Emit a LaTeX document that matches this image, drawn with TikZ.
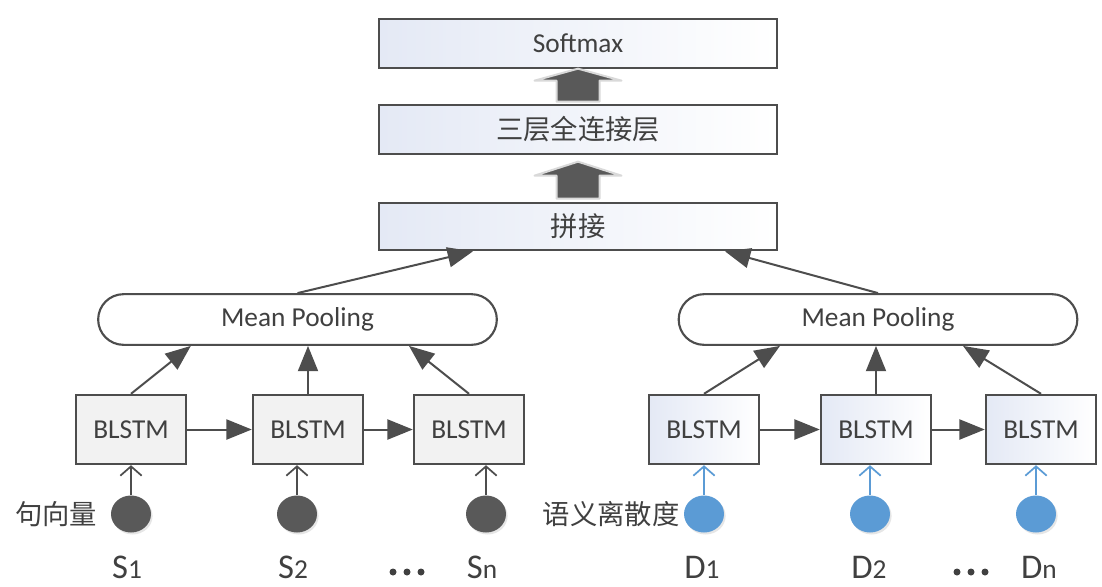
\documentclass[tikz,border=0pt]{standalone}
\usepackage{fontspec}
\setmainfont{Carlito}
\newfontfamily\cjk{Noto Sans CJK SC}
\usepackage{xcolor}
\usetikzlibrary{positioning}
\usetikzlibrary{calc}
\usetikzlibrary{arrows.meta}
\usetikzlibrary{shadows}
\usetikzlibrary{shapes.geometric}

\definecolor{linegray}{RGB}{77,77,77}
\definecolor{textgray}{RGB}{64,64,64}
\definecolor{paleblue}{RGB}{228,233,245}
\definecolor{boxgray}{RGB}{242,242,242}
\definecolor{dotblue}{RGB}{91,155,213}
\definecolor{fatgray}{RGB}{89,89,89}

\newcommand\seqlab[2]{{\fontsize{26}{28}\selectfont #1}{\fontsize{20.5}{24}\selectfont #2}}

\tikzset{
	txt/.style={text=textgray, font=\fontsize{20.5}{24}\selectfont},
	layer/.style={txt, draw=linegray, line width=2pt, left color=paleblue, right color=white, minimum width=298.5pt, minimum height=36.75pt},
	pool/.style={txt, draw=linegray, line width=1.6pt, rounded corners=19pt, fill=white, minimum width=299pt, minimum height=38pt},
	lstm/.style={txt, draw=linegray, line width=1.8pt, minimum width=82.5pt, minimum height=51.75pt},
	graybox/.style={lstm, fill=boxgray},
	bluebox/.style={lstm, left color=paleblue, right color=white},
	sent/.style={ellipse, fill=fatgray, minimum width=30pt, minimum height=27.75pt, inner sep=0pt, drop shadow={shadow xshift=1.2pt, shadow yshift=-1.5pt, opacity=0.2}},
	diver/.style={sent, fill=dotblue},
	flow/.style={draw=linegray, line width=1.5pt, -{Triangle[length=19pt,width=15pt]}},
	feed/.style={draw=linegray, line width=1.3pt, -{Straight Barb[length=7pt,width=16pt]}},
	bluefeed/.style={feed, draw=dotblue},
	lab/.style={txt, inner sep=0pt},
	fat/.style={fill=fatgray, draw=gray!30, line width=1.5pt, line join=round}
}

\begin{document}
\begin{tikzpicture}[x=0.75pt,y=-0.75pt]
	\useasboundingbox (0,0) rectangle (1102,586);
	% top layers
	\node[layer] (soft) at (578,43.5) {Softmax};
	\node[layer] (fc) at (578,129.5) {\cjk 三层全连接层};
	\node[layer, minimum height=35.25pt] (cat) at (578,226.5) {\cjk 拼接};
	\filldraw[fat] ($(fc.north)+(-21.5,-2)$) -- ++(0,-21) -- ++(-22,0) -- ++(43.5,-12) -- ++(43.5,12) -- ++(-22,0) -- ++(0,21) -- cycle;
	\filldraw[fat] ($(cat.north)+(-21.5,-3)$) -- ++(0,-23) -- ++(-22,0) -- ++(43.5,-14) -- ++(43.5,14) -- ++(-22,0) -- ++(0,23) -- cycle;

	% pooling
	\node[pool] (mpl) at (297.5,319.5) {Mean Pooling};
	\node[pool] (mpr) at (878,319.5) {Mean Pooling};
	\draw[flow] (mpl.north) -- ([xshift=-78.75pt]cat.south);
	\draw[flow] (mpr.north) -- ([xshift=110.25pt]cat.south);

	% BLSTM chains
	\node[graybox] (sb1) at (131,429.5) {BLSTM};
	\node[graybox] (sb2) at (308,429.5) {BLSTM};
	\node[graybox] (sb3) at (469,429.5) {BLSTM};
	\node[bluebox] (db1) at (704,429.5) {BLSTM};
	\node[bluebox] (db2) at (876,429.5) {BLSTM};
	\node[bluebox] (db3) at (1041,429.5) {BLSTM};
	\foreach \a/\b in {sb1/sb2,sb2/sb3,db1/db2,db2/db3}
	{
		\draw[flow] (\a) -- (\b);
	}
	\draw[flow] (sb1.north) -- ([xshift=-80pt]mpl.south);
	\draw[flow] (sb2.north) -- (sb2.north |- mpl.south);
	\draw[flow] (sb3.north) -- ([xshift=83.6pt]mpl.south);
	\draw[flow] (db1.north) -- ([xshift=-73.5pt]mpr.south);
	\draw[flow] (db2.north) -- (db2.north |- mpr.south);
	\draw[flow] (db3.north) -- ([xshift=63.75pt]mpr.south);

	% inputs
	\node[sent] (s1) at (131,514) {};
	\node[sent] (s2) at (297,514) {};
	\node[sent] (s3) at (486,514) {};
	\node[diver] (d1) at (704,514) {};
	\node[diver] (d2) at (870,514) {};
	\node[diver] (d3) at (1036,514) {};
	\foreach \i in {1,2,3}
	{
		\draw[feed] (s\i) -- (s\i |- sb\i.south);
		\draw[bluefeed] (d\i) -- (d\i |- db\i.south);
	}
	\node[lab, left=10pt of s1] (sname) {\cjk 句向量};
	\node[lab, left=3pt of d1] (dname) {\cjk 语义离散度};

	% labels
	\node[lab, anchor=base] (sl1) at (127,578) {\seqlab{S}{1}};
	\node[lab, anchor=base] (sl2) at (293,578) {\seqlab{S}{2}};
	\node[lab, anchor=base] (sl3) at (482,578) {\seqlab{S}{n}};
	\node[lab, anchor=base] (dl1) at (702,578) {\seqlab{D}{1}};
	\node[lab, anchor=base] (dl2) at (869,578) {\seqlab{D}{2}};
	\node[lab, anchor=base] (dl3) at (1039,578) {\seqlab{D}{n}};
	\coordinate (sdots) at (407,572);
	\coordinate (ddots) at (971,572);
	\foreach \d in {-14,0,14}
	{
		\fill[textgray] ($(sdots)+(\d,0)$) circle[radius=3.5];
		\fill[textgray] ($(ddots)+(\d,0)$) circle[radius=3.5];
	}
\end{tikzpicture}
\end{document}
